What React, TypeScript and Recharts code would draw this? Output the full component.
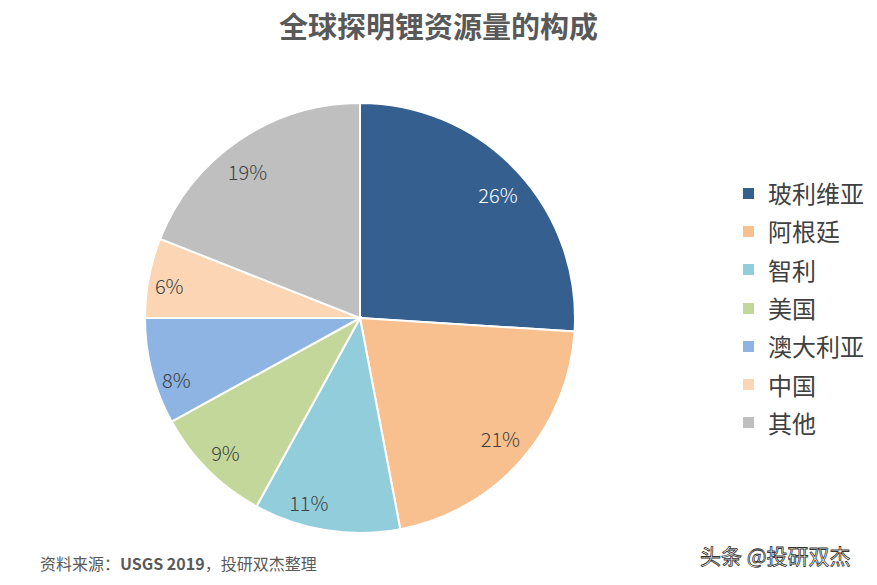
import React from "react";
import { PieChart, Pie, Cell, Legend } from "recharts";

const countries = ["玻利维亚", "阿根廷", "智利", "美国", "澳大利亚", "中国", "其他"];
const shares = [26, 21, 11, 9, 8, 6, 19];
const colors = ["#355F8F", "#F9C08F", "#92CDDC", "#C4D79B", "#8DB4E2", "#FCD5B4", "#BFBFBF"];
const labelColors = ["#FFFFFF", "#404040", "#404040", "#404040", "#404040", "#404040", "#404040"];
// label placement tweaks (style only): angle nudge in degrees and radius fraction
const labelAngleNudge = [-1.5, 0.8, -6.5, 0, 4, 1.2, 3.3];
const labelRadiusFrac = [0.86, 0.86, 0.89, 0.885, 0.9, 0.9, 0.86];

const data = countries.map((name, i) => ({ name, value: shares[i] }));

const FONT = '"Noto Sans CJK SC", "Noto Sans", sans-serif';
const RAD = Math.PI / 180;

const renderLabel = (props: any) => {
  const { cx, cy, midAngle, outerRadius, index, value } = props;
  const r = outerRadius * labelRadiusFrac[index];
  const a = midAngle + labelAngleNudge[index];
  const x = cx + r * Math.cos(-a * RAD);
  const y = cy + r * Math.sin(-a * RAD);
  return (
    <text
      x={x}
      y={y}
      fill={labelColors[index]}
      textAnchor="middle"
      dominantBaseline="central"
      fontSize={20}
      fontWeight={300}
      fontFamily={FONT}
    >
      {value}%
    </text>
  );
};

const renderLegend = () => (
  <div style={{ fontFamily: FONT }}>
    {data.map((d, i) => (
      <div
        key={d.name}
        style={{ display: "flex", alignItems: "center", height: 38.3 }}
      >
        <div style={{ width: 11, height: 11, background: colors[i], marginRight: 14 }} />
        <span style={{ fontSize: 24, color: "#404040", lineHeight: "38px" }}>{d.name}</span>
      </div>
    ))}
  </div>
);

export default function App() {
  return (
    <div
      style={{
        position: "fixed",
        left: 0,
        top: 0,
        width: 877,
        height: 585,
        background: "#FFFFFF",
        fontFamily: FONT,
      }}
    >
      <div
        style={{
          position: "absolute",
          left: 0,
          top: 4,
          width: 877,
          textAlign: "center",
          fontSize: 29,
          fontWeight: "bold",
          color: "#595959",
          lineHeight: "42px",
        }}
      >
        全球探明锂资源量的构成
      </div>
      <PieChart width={877} height={585} margin={{ top: 0, right: 0, bottom: 0, left: 0 }}>
        <Pie
          data={data}
          dataKey="value"
          nameKey="name"
          cx={360}
          cy={318}
          outerRadius={215}
          startAngle={90}
          endAngle={-270}
          stroke="#FFFFFF"
          strokeWidth={2}
          label={renderLabel}
          labelLine={false}
          isAnimationActive={false}
        >
          {data.map((d, i) => (
            <Cell key={d.name} fill={colors[i]} />
          ))}
        </Pie>
        <Legend
          layout="vertical"
          align="right"
          verticalAlign="top"
          content={renderLegend}
          wrapperStyle={{ left: 743, top: 174, width: 134 }}
        />
      </PieChart>
      <div
        style={{
          position: "absolute",
          left: 40,
          top: 552,
          fontSize: 16,
          color: "#595959",
          lineHeight: "22px",
        }}
      >
        资料来源：<b>USGS 2019</b>，投研双杰整理
      </div>
      <div
        style={{
          position: "absolute",
          left: 700,
          top: 540,
          fontSize: 21,
          color: "#FFFFFF",
          WebkitTextStroke: "0.8px #333333",
          lineHeight: "30px",
        }}
      >
        头条 @投研双杰
      </div>
    </div>
  );
}
